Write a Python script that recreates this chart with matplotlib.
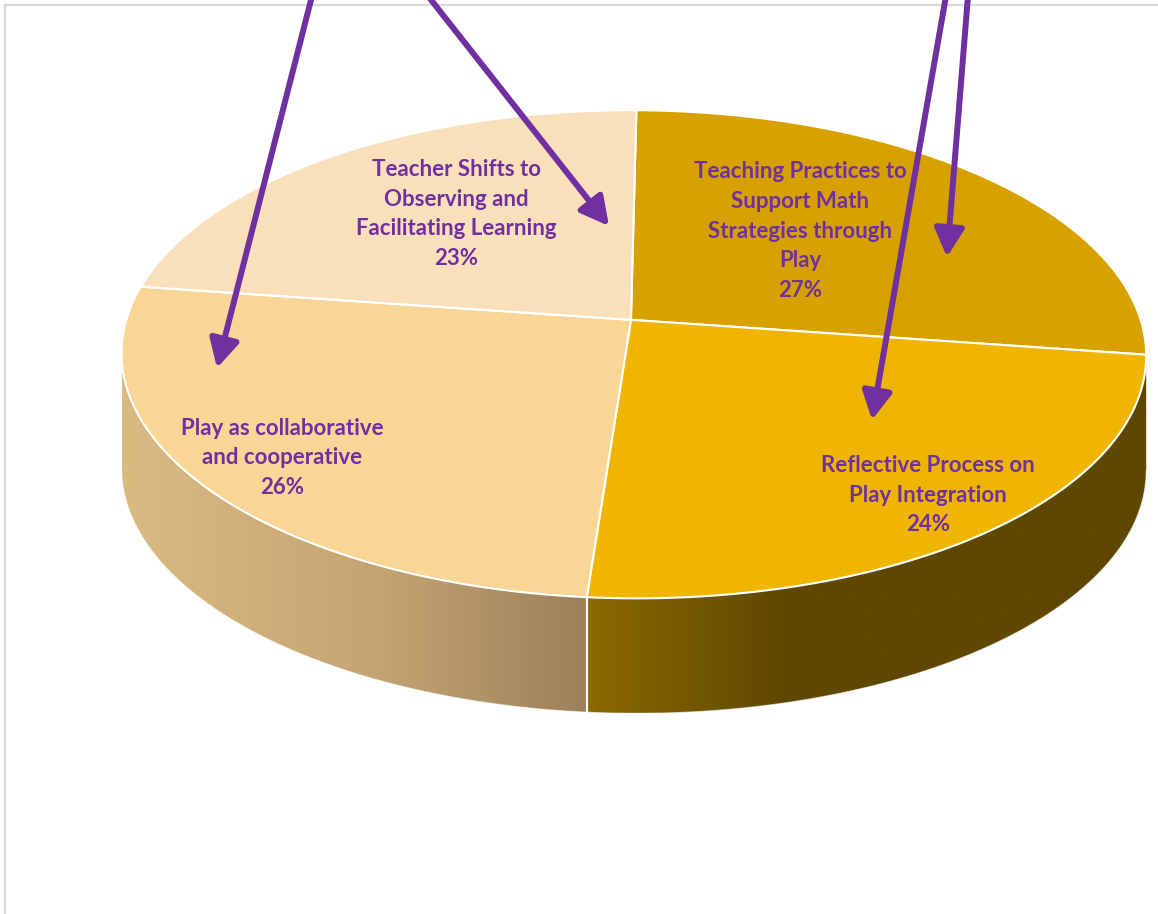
import numpy as np
import matplotlib
matplotlib.use("Agg")
import matplotlib.pyplot as plt
from matplotlib.patches import Polygon
from matplotlib.colors import LinearSegmentedColormap

# ---------------- data ----------------
categories = ["Teaching Practices to\nSupport Math\nStrategies through\nPlay",
              "Reflective Process on\nPlay Integration",
              "Play as collaborative\nand cooperative",
              "Teacher Shifts to\nObserving and\nFacilitating Learning"]
values = [27, 24, 26, 23]

# ---------------- style / layout ----------------
top_colors = ["#D7A100", "#EFB500", "#F9D596", "#FADFBB"]
side_cmaps = [None,
              [(0.0, "#8C6A00"), (0.35, "#5F4700"), (1.0, "#5F4700")],
              [(0.0, "#DBBA82"), (0.55, "#C4A473"), (1.0, "#9B805A")],
              None]
text_color = "#7030A0"
label_pos = [(800, 231), (928, 495), (282, 458), (456, 214)]
arrows = [((312, -4), (217, 368)), ((428, -4), (609, 226)),
          ((946, -4), (872, 420)), ((968, -4), (947, 257))]
# pixel anchors of the pie (centre + slice boundaries on the rim)
anchor_px = [(634, 320), (634, 110), (1146, 355), (585, 597), (141, 287)]
anchor_w = [2, 1.5, 1, 2, 1]
depth = 115

W, H = 1158, 914
fig = plt.figure(figsize=(W / 100, H / 100), dpi=100)
ax = fig.add_axes([0, 0, 1, 1])
ax.set_xlim(0, W)
ax.set_ylim(H, 0)
ax.axis("off")

# border
ax.plot([5, W], [5, 5], color="#D9D9D9", lw=1.6, zorder=0)
ax.plot([5, 5], [5, H], color="#D9D9D9", lw=1.6, zorder=0)

# cumulative angles, clockwise from the back (12 o'clock)
fr = np.array(values, float) / sum(values)
bounds = np.concatenate([[0], np.cumsum(fr)]) * 2 * np.pi


def circ(t):
    return np.stack([np.sin(t), np.cos(t)], axis=-1)


# fit a homography (perspective) from unit circle to pixel anchors
src = np.vstack([[0, 0], circ(bounds[:4])])
A, b = [], []
for (x, y), (u, v), w in zip(src, anchor_px, anchor_w):
    A.append(np.array([x, y, 1, 0, 0, 0, -u * x, -u * y]) * w); b.append(u * w)
    A.append(np.array([0, 0, 0, x, y, 1, -v * x, -v * y]) * w); b.append(v * w)
h = np.linalg.lstsq(np.array(A, float), np.array(b, float), rcond=None)[0]
Hm = np.append(h, 1).reshape(3, 3)


def proj(pts):
    pts = np.atleast_2d(pts)
    p = np.column_stack([pts, np.ones(len(pts))]) @ Hm.T
    return p[:, :2] / p[:, 2:3]


def rim(t0, t1, n=200):
    return proj(circ(np.linspace(t0, t1, n)))


# silhouette angles (x extremes)
tt = np.linspace(0, 2 * np.pi, 4000)
px = proj(circ(tt))[:, 0]
t_right = tt[np.argmax(px)]
t_left = tt[np.argmin(px)]

# ---- sides ----
for i in range(4):
    a0, a1 = max(bounds[i], t_right), min(bounds[i + 1], t_left)
    if a1 <= a0:
        continue
    topp = rim(a0, a1)
    bot = topp + np.array([0, depth])
    poly = np.vstack([topp, bot[::-1]])
    if side_cmaps[i] is None:
        ax.add_patch(Polygon(poly, closed=True, fc=top_colors[i], ec="none", zorder=2))
        continue
    patch = Polygon(poly, closed=True, fc="none", ec="none", zorder=2)
    ax.add_patch(patch)
    cmap = LinearSegmentedColormap.from_list("s%d" % i, side_cmaps[i])
    x0, x1 = poly[:, 0].min(), poly[:, 0].max()
    y0, y1 = poly[:, 1].min(), poly[:, 1].max()
    grad = np.linspace(0, 1, 256)[None, :]
    im = ax.imshow(grad, cmap=cmap, extent=(x0, x1, y1, y0), aspect="auto",
                   zorder=2, interpolation="bilinear")
    im.set_clip_path(patch)
    ax.plot(*np.vstack([bot, bot[-1:]]).T, color="white", lw=0.8, alpha=0.6, zorder=3)

# vertical white edges on the front at slice boundaries
for t in bounds[1:4]:
    if t_right < t < t_left:
        p = proj(circ(np.array([t])))[0]
        ax.plot([p[0], p[0]], [p[1], p[1] + depth], color="white", lw=1.6, zorder=3)

# ---- top faces ----
c = proj(np.array([[0.0, 0.0]]))[0]
for i in range(4):
    arc = rim(bounds[i], bounds[i + 1])
    poly = np.vstack([c, arc])
    ax.add_patch(Polygon(poly, closed=True, fc=top_colors[i], ec="white",
                         lw=1.5, joinstyle="round", zorder=4))

# ---- labels ----
for i in range(4):
    ax.text(label_pos[i][0], label_pos[i][1], f"{categories[i]}\n{values[i]}%",
            ha="center", va="center", color=text_color, fontsize=16,
            fontweight="bold", family=["Lato", "DejaVu Sans"], linespacing=1.52,
            zorder=6)

# ---- arrows ----
for (s, e) in arrows:
    ax.annotate("", xy=e, xytext=s,
                arrowprops=dict(arrowstyle="-|>,head_length=0.85,head_width=0.45",
                                color=text_color, lw=4.3, mutation_scale=20,
                                shrinkA=0, shrinkB=0),
                zorder=7, annotation_clip=False)

fig.savefig("out.png", dpi=100)
